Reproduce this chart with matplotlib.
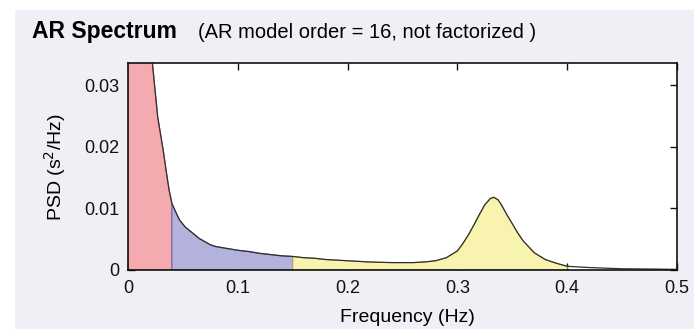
import numpy as np
import matplotlib
matplotlib.use("Agg")
import matplotlib.pyplot as plt
from matplotlib.patches import Rectangle

plt.rcParams["font.family"] = ["Liberation Sans", "DejaVu Sans"]

# --- data -------------------------------------------------------------------
freq = [0.000, 0.010, 0.020, 0.022, 0.027, 0.032, 0.035, 0.0374, 0.040,
        0.044, 0.047, 0.052, 0.0595, 0.065, 0.070, 0.075, 0.080, 0.090,
        0.100, 0.110, 0.120, 0.130, 0.140, 0.150, 0.160, 0.170, 0.180,
        0.200, 0.220, 0.240, 0.260, 0.270, 0.280, 0.290, 0.300, 0.305,
        0.310, 0.315, 0.320, 0.325, 0.330, 0.333, 0.337, 0.340, 0.345,
        0.350, 0.355, 0.360, 0.370, 0.380, 0.390, 0.400, 0.420, 0.450,
        0.480, 0.500]
psd = [0.300, 0.120, 0.042, 0.0340, 0.0249, 0.0195, 0.0158, 0.0130, 0.0108,
       0.0092, 0.0081, 0.0070, 0.0059, 0.0051, 0.0046, 0.0041, 0.0038, 0.0035,
       0.0032, 0.0030, 0.0027, 0.0025, 0.0023, 0.0022, 0.0020, 0.0019, 0.0017,
       0.0015, 0.0013, 0.0012, 0.0012, 0.0013, 0.0015, 0.0020, 0.0031, 0.0043,
       0.0057, 0.0073, 0.0090, 0.0106, 0.0116, 0.0118, 0.0114, 0.0106, 0.0090,
       0.0075, 0.0060, 0.0047, 0.0028, 0.0017, 0.0011, 0.0006, 0.0004, 0.0002,
       0.00015, 0.0001]

# frequency bands: (lo, hi, fill, edge)
bands = [(0.00, 0.04, "#f5aab0", "#b06068"),
         (0.04, 0.15, "#b2b2dc", "#6a6aa8"),
         (0.15, 0.40, "#f8f4b0", "#b0a860")]

xticks = [0, 0.1, 0.2, 0.3, 0.4, 0.5]
xticklabels = ["0", "0.1", "0.2", "0.3", "0.4", "0.5"]
yticks = [0, 0.01, 0.02, 0.03]
yticklabels = ["0", "0.01", "0.02", "0.03"]

f = np.array(freq); p = np.array(psd)

W, H = 694, 329
fig = plt.figure(figsize=(W / 100, H / 100), dpi=100)
fig.patch.set_facecolor("white")
fig.add_artist(Rectangle((15 / W, 0), 1, 1 - 10 / H, transform=fig.transFigure,
                         facecolor="#eff0f5", edgecolor="none", zorder=-10))

ax = fig.add_axes([128 / W, 1 - 270 / H, (677 - 128) / W, (270 - 63) / H])
ax.set_facecolor("white")

for lo, hi, fc, ec in bands:
    m = (f >= lo - 1e-9) & (f <= hi + 1e-9)
    xs = np.r_[lo, f[m], hi]
    ys = np.r_[0, p[m], 0]
    ax.fill(xs, ys, facecolor=fc, edgecolor=ec, linewidth=0.8, zorder=2)
ax.plot(f, p, color="#303030", linewidth=0.9, zorder=3)

ax.set_xlim(0, 0.5)
ax.set_ylim(0, 0.0336)
ax.set_xticks(xticks); ax.set_xticklabels(xticklabels)
ax.set_yticks(yticks); ax.set_yticklabels(yticklabels)
ax.tick_params(direction="in", length=5, width=1, top=True, right=True,
               labelsize=13, colors="#111111")
ax.tick_params(axis="x", pad=7)
ax.tick_params(axis="y", pad=6)
for s in ax.spines.values():
    s.set_linewidth(1.2); s.set_color("#111111"); s.set_zorder(5)

fig.text(32 / W, 1 - 38 / H, "AR Spectrum", fontsize=16.5, fontweight="bold",
         va="baseline", ha="left")
fig.text(198 / W, 1 - 38 / H, "(AR model order = 16, not factorized )",
         fontsize=14.5, va="baseline", ha="left")
fig.text(407 / W, 1 - 318 / H, "Frequency (Hz)", fontsize=14,
         ha="center", va="center")
fig.text(55 / W, 1 - 167 / H, "PSD (s$^2$/Hz)", fontsize=14, rotation=90,
         ha="center", va="center")

fig.savefig("out.png", dpi=100)
